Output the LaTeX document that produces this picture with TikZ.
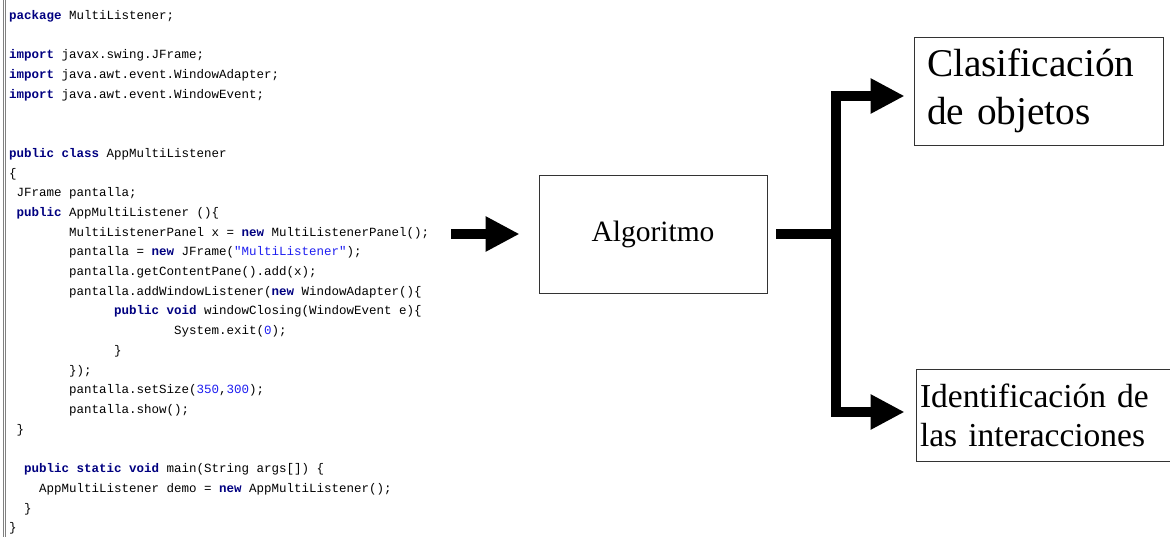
\documentclass[tikz,border=0pt]{standalone}
\usepackage{xcolor}
\usepackage{fontspec}
\setmainfont{Liberation Serif}
\setmonofont{Liberation Mono}
\usepackage{tikz}
\usetikzlibrary{arrows.meta}

\definecolor{kwcol}{RGB}{0,0,128}
\definecolor{litcol}{RGB}{30,30,240}
\newcommand{\kw}[1]{\textbf{\textcolor{kwcol}{#1}}}
\newcommand{\lit}[1]{\textcolor{litcol}{#1}}

\tikzset{
  codeline/.style={anchor=base west, inner sep=0pt, font=\ttfamily\fontsize{12.5}{14}\selectfont},
  stagebox/.style={draw=black!80, line width=0.8pt},
  fatline/.style={line width=10pt},
  fatarrow/.style={line width=10pt, -{Triangle[length=34pt,width=33pt]}}
}

\begin{document}
\begin{tikzpicture}[x=1pt,y=-1pt]
        \useasboundingbox (0,0) rectangle (1170,537);
        % Editor margin
        \draw[gray, line width=0.8pt] (3.5,0) -- (3.5,537);
        \draw[gray, line width=0.8pt] (5.5,0) -- (5.5,537);

        % Source code
        \node[codeline] (l0) at (9,19.5) {\kw{package} MultiListener;};
        \node[codeline] (l2) at (9,58.9) {\kw{import} javax.swing.JFrame;};
        \node[codeline] (l3) at (9,78.6) {\kw{import} java.awt.event.WindowAdapter;};
        \node[codeline] (l4) at (9,98.3) {\kw{import} java.awt.event.WindowEvent;};
        \node[codeline] (l7) at (9,157.4) {\kw{public} \kw{class} AppMultiListener};
        \node[codeline] (l8) at (9,177.1) {\{};
        \node[codeline] (l9) at (16.5,196.8) {JFrame pantalla;};
        \node[codeline] (l10) at (16.5,216.5) {\kw{public} AppMultiListener ()\{};
        \node[codeline] (l11) at (69,236.2) {MultiListenerPanel x = \kw{new} MultiListenerPanel();};
        \node[codeline] (l12) at (69,255.9) {pantalla = \kw{new} JFrame(\lit{"MultiListener"});};
        \node[codeline] (l13) at (69,275.6) {pantalla.getContentPane().add(x);};
        \node[codeline] (l14) at (69,295.3) {pantalla.addWindowListener(\kw{new} WindowAdapter()\{};
        \node[codeline] (l15) at (114,315.0) {\kw{public} \kw{void} windowClosing(WindowEvent e)\{};
        \node[codeline] (l16) at (174,334.7) {System.exit(\lit{0});};
        \node[codeline] (l17) at (114,354.4) {\}};
        \node[codeline] (l18) at (69,374.1) {\});};
        \node[codeline] (l19) at (69,393.8) {pantalla.setSize(\lit{350},\lit{300});};
        \node[codeline] (l20) at (69,413.5) {pantalla.show();};
        \node[codeline] (l21) at (16.5,433.2) {\}};
        \node[codeline] (l23) at (24,472.6) {\kw{public} \kw{static} \kw{void} main(String args[]) \{};
        \node[codeline] (l24) at (39,492.3) {AppMultiListener demo = \kw{new} AppMultiListener();};
        \node[codeline] (l25) at (24,512.0) {\}};
        \node[codeline] (l26) at (9,531.7) {\}};

        % Stages
        \node[stagebox, minimum width=228pt, minimum height=118pt,
              font=\fontsize{29.5}{35}\selectfont] (algo) at (653,234) {Algoritmo};
        \node[stagebox, minimum height=108pt, text width=223pt, inner xsep=13pt, align=left,
              font=\fontsize{39.3}{48}\selectfont] (clas) at (1038.5,91) {Clasificación\\de objetos};
        \node[stagebox, minimum height=92pt, text width=251pt, inner xsep=4pt, align=left,
              font=\fontsize{33.5}{39}\selectfont] (ident) at (1045.5,415) {Identificación de\\las interacciones};

        % Connectors
        \coordinate (src) at (451,234);
        \coordinate (split) at (836,234);
        \draw[fatarrow] (src) -- ([xshift=-19pt]algo.west);
        \draw[fatline] ([xshift=9pt]algo.east) -- (split);
        \draw[fatarrow] (split) |- ([xshift=-9pt,yshift=-5pt]clas.west);
        \draw[fatarrow] (split) |- ([xshift=-11pt,yshift=3pt]ident.west);
\end{tikzpicture}
\end{document}
